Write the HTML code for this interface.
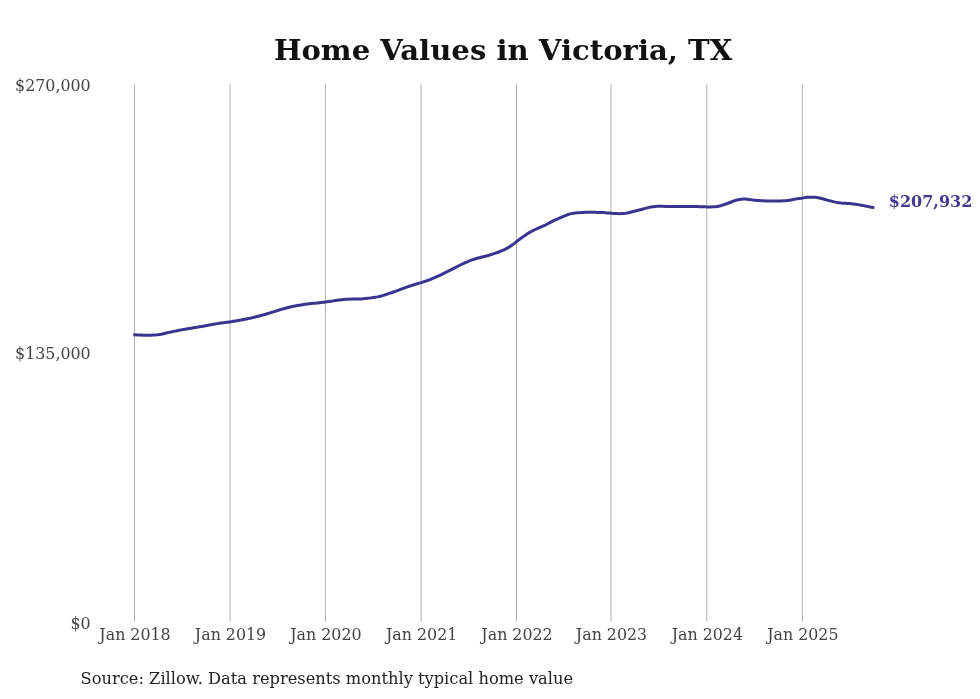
<!DOCTYPE html>
<html><head><meta charset="utf-8"><title>Home Values in Victoria, TX</title>
<style>
html,body{margin:0;padding:0;background:#fff;}
svg{display:block;}
text{font-family:"DejaVu Serif","Liberation Serif",serif;}
</style></head><body>
<svg width="980" height="699" viewBox="0 0 980 699">
<rect width="980" height="699" fill="#fff"/>
<text transform="translate(503.15,60.4) scale(1.079,1)" font-size="27" font-weight="bold" text-anchor="middle" fill="#111">Home Values in Victoria, TX</text>
<g stroke="#b0b0b0" stroke-width="1">
<line x1="134.5" y1="84" x2="134.5" y2="621.6"/>
<line x1="230.0" y1="84" x2="230.0" y2="621.6"/>
<line x1="325.4" y1="84" x2="325.4" y2="621.6"/>
<line x1="421.1" y1="84" x2="421.1" y2="621.6"/>
<line x1="516.5" y1="84" x2="516.5" y2="621.6"/>
<line x1="611.0" y1="84" x2="611.0" y2="621.6"/>
<line x1="706.8" y1="84" x2="706.8" y2="621.6"/>
<line x1="802.3" y1="84" x2="802.3" y2="621.6"/>
</g>
<g font-size="15.85" fill="#444" text-anchor="end">
<text transform="translate(90.7,91)">$270,000</text>
<text transform="translate(90.7,359)">$135,000</text>
<text transform="translate(90.7,629)">$0</text>
</g>
<g font-size="15.85" fill="#444" text-anchor="middle">
<text transform="translate(135.0,640)">Jan 2018</text>
<text transform="translate(230.5,640)">Jan 2019</text>
<text transform="translate(325.9,640)">Jan 2020</text>
<text transform="translate(421.6,640)">Jan 2021</text>
<text transform="translate(517.0,640)">Jan 2022</text>
<text transform="translate(611.5,640)">Jan 2023</text>
<text transform="translate(707.3,640)">Jan 2024</text>
<text transform="translate(802.8,640)">Jan 2025</text>
</g>
<path d="M133.3,334.68 L135.3,334.77 L137.3,334.88 L139.3,335.00 L141.3,335.11 L143.3,335.20 L145.3,335.24 L147.3,335.24 L149.3,335.20 L151.3,335.14 L153.3,335.06 L155.3,334.96 L157.3,334.80 L159.3,334.55 L161.3,334.19 L163.3,333.76 L165.3,333.29 L167.3,332.82 L169.3,332.38 L171.3,331.95 L173.3,331.53 L175.3,331.11 L177.3,330.69 L179.3,330.29 L181.3,329.90 L183.3,329.54 L185.3,329.19 L187.3,328.85 L189.3,328.52 L191.3,328.18 L193.3,327.85 L195.3,327.51 L197.3,327.18 L199.3,326.84 L201.3,326.50 L203.3,326.15 L205.3,325.79 L207.3,325.41 L209.3,325.02 L211.3,324.63 L213.3,324.26 L215.3,323.91 L217.3,323.61 L219.3,323.34 L221.3,323.09 L223.3,322.82 L225.3,322.54 L227.3,322.25 L229.3,321.96 L231.3,321.65 L233.3,321.33 L235.3,320.99 L237.3,320.65 L239.3,320.30 L241.3,319.95 L243.3,319.59 L245.3,319.21 L247.3,318.82 L249.3,318.40 L251.3,317.95 L253.3,317.47 L255.3,316.97 L257.3,316.45 L259.3,315.93 L261.3,315.41 L263.3,314.87 L265.3,314.32 L267.3,313.73 L269.3,313.13 L271.3,312.52 L273.3,311.90 L275.3,311.27 L277.3,310.62 L279.3,309.98 L281.3,309.36 L283.3,308.76 L285.3,308.21 L287.3,307.68 L289.3,307.19 L291.3,306.74 L293.3,306.33 L295.3,305.95 L297.3,305.59 L299.3,305.24 L301.3,304.90 L303.3,304.58 L305.3,304.28 L307.3,304.01 L309.3,303.77 L311.3,303.55 L313.3,303.35 L315.3,303.15 L317.3,302.95 L319.3,302.74 L321.3,302.53 L323.3,302.31 L325.3,302.07 L327.3,301.80 L329.3,301.50 L331.3,301.20 L333.3,300.89 L335.3,300.58 L337.3,300.26 L339.3,299.95 L341.3,299.68 L343.3,299.46 L345.3,299.30 L347.3,299.19 L349.3,299.13 L351.3,299.11 L353.3,299.12 L355.3,299.12 L357.3,299.09 L359.3,299.02 L361.3,298.90 L363.3,298.75 L365.3,298.57 L367.3,298.36 L369.3,298.13 L371.3,297.88 L373.3,297.59 L375.3,297.26 L377.3,296.89 L379.3,296.47 L381.3,295.99 L383.3,295.42 L385.3,294.78 L387.3,294.10 L389.3,293.42 L391.3,292.73 L393.3,292.03 L395.3,291.32 L397.3,290.59 L399.3,289.84 L401.3,289.08 L403.3,288.32 L405.3,287.58 L407.3,286.88 L409.3,286.21 L411.3,285.58 L413.3,284.98 L415.3,284.39 L417.3,283.80 L419.3,283.19 L421.3,282.57 L423.3,281.92 L425.3,281.25 L427.3,280.55 L429.3,279.81 L431.3,279.04 L433.3,278.22 L435.3,277.36 L437.3,276.47 L439.3,275.55 L441.3,274.61 L443.3,273.64 L445.3,272.66 L447.3,271.67 L449.3,270.66 L451.3,269.64 L453.3,268.60 L455.3,267.57 L457.3,266.54 L459.3,265.52 L461.3,264.52 L463.3,263.56 L465.3,262.63 L467.3,261.76 L469.3,260.93 L471.3,260.16 L473.3,259.45 L475.3,258.81 L477.3,258.23 L479.3,257.70 L481.3,257.22 L483.3,256.76 L485.3,256.29 L487.3,255.78 L489.3,255.19 L491.3,254.55 L493.3,253.88 L495.3,253.18 L497.3,252.47 L499.3,251.74 L501.3,250.95 L503.3,250.10 L505.3,249.15 L507.3,248.09 L509.3,246.91 L511.3,245.58 L513.3,244.12 L515.3,242.59 L517.3,241.06 L519.3,239.55 L521.3,238.06 L523.3,236.59 L525.3,235.17 L527.3,233.83 L529.3,232.60 L531.3,231.48 L533.3,230.46 L535.3,229.51 L537.3,228.59 L539.3,227.69 L541.3,226.83 L543.3,225.98 L545.3,225.05 L547.3,224.01 L549.3,222.90 L551.3,221.81 L553.3,220.82 L555.3,219.90 L557.3,219.01 L559.3,218.13 L561.3,217.27 L563.3,216.41 L565.3,215.58 L567.3,214.79 L569.3,214.13 L571.3,213.61 L573.3,213.26 L575.3,213.02 L577.3,212.84 L579.3,212.68 L581.3,212.55 L583.3,212.44 L585.3,212.36 L587.3,212.31 L589.3,212.30 L591.3,212.31 L593.3,212.32 L595.3,212.35 L597.3,212.39 L599.3,212.44 L601.3,212.51 L603.3,212.62 L605.3,212.76 L607.3,212.93 L609.3,213.10 L611.3,213.26 L613.3,213.38 L615.3,213.49 L617.3,213.58 L619.3,213.63 L621.3,213.60 L623.3,213.49 L625.3,213.28 L627.3,212.96 L629.3,212.55 L631.3,212.06 L633.3,211.55 L635.3,211.03 L637.3,210.52 L639.3,210.00 L641.3,209.48 L643.3,208.96 L645.3,208.42 L647.3,207.86 L649.3,207.34 L651.3,206.93 L653.3,206.64 L655.3,206.45 L657.3,206.35 L659.3,206.31 L661.3,206.32 L663.3,206.35 L665.3,206.39 L667.3,206.42 L669.3,206.45 L671.3,206.47 L673.3,206.49 L675.3,206.50 L677.3,206.50 L679.3,206.50 L681.3,206.49 L683.3,206.49 L685.3,206.48 L687.3,206.46 L689.3,206.44 L691.3,206.44 L693.3,206.46 L695.3,206.50 L697.3,206.56 L699.3,206.63 L701.3,206.71 L703.3,206.80 L705.3,206.87 L707.3,206.91 L709.3,206.92 L711.3,206.91 L713.3,206.87 L715.3,206.75 L717.3,206.50 L719.3,206.08 L721.3,205.53 L723.3,204.89 L725.3,204.21 L727.3,203.51 L729.3,202.78 L731.3,202.00 L733.3,201.21 L735.3,200.50 L737.3,199.93 L739.3,199.52 L741.3,199.24 L743.3,199.09 L745.3,199.10 L747.3,199.27 L749.3,199.54 L751.3,199.84 L753.3,200.09 L755.3,200.29 L757.3,200.47 L759.3,200.61 L761.3,200.74 L763.3,200.86 L765.3,200.96 L767.3,201.04 L769.3,201.08 L771.3,201.10 L773.3,201.09 L775.3,201.07 L777.3,201.04 L779.3,201.00 L781.3,200.94 L783.3,200.86 L785.3,200.74 L787.3,200.54 L789.3,200.26 L791.3,199.90 L793.3,199.51 L795.3,199.14 L797.3,198.81 L799.3,198.50 L801.3,198.20 L803.3,197.89 L805.3,197.59 L807.3,197.34 L809.3,197.19 L811.3,197.16 L813.3,197.21 L815.3,197.35 L817.3,197.59 L819.3,197.95 L821.3,198.42 L823.3,198.96 L825.3,199.53 L827.3,200.09 L829.3,200.64 L831.3,201.17 L833.3,201.66 L835.3,202.11 L837.3,202.49 L839.3,202.79 L841.3,203.02 L843.3,203.18 L845.3,203.31 L847.3,203.44 L849.3,203.58 L851.3,203.76 L853.3,203.99 L855.3,204.26 L857.3,204.56 L859.3,204.89 L861.3,205.24 L863.3,205.61 L865.3,205.99 L867.3,206.39 L869.3,206.80 L871.3,207.20 L873.3,207.55 L874.3,207.77" fill="none" stroke="#3a3491" stroke-width="3" stroke-linejoin="round" stroke-linecap="butt"/>
<text x="888.8" y="207" font-size="16" font-weight="bold" fill="#423d8f">$207,932</text>
<text x="80.6" y="684" font-size="16.25" fill="#222">Source: Zillow. Data represents monthly typical home value</text>
</svg>
</body></html>
